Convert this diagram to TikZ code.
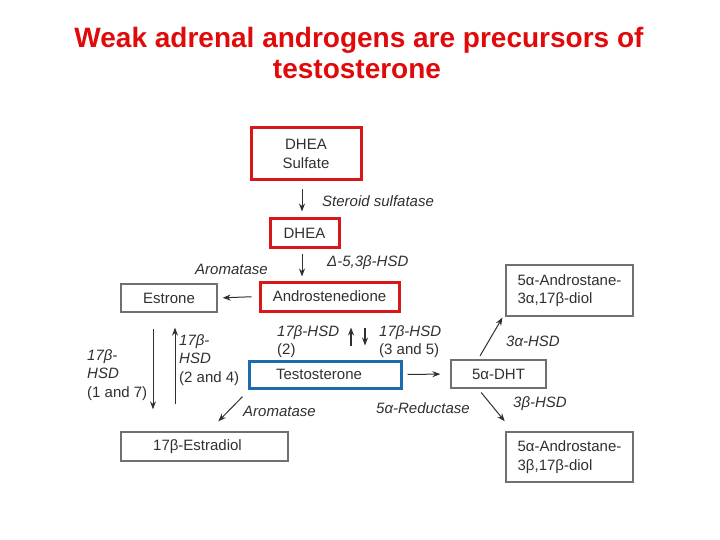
\documentclass[tikz,border=0pt]{standalone}
\usepackage{fontspec}
\setmainfont{Liberation Sans}
\usetikzlibrary{arrows.meta,calc}
\definecolor{tred}{HTML}{E00A0A}
\definecolor{bred}{HTML}{D81818}
\definecolor{bblue}{HTML}{1E6AAE}
\definecolor{ink}{HTML}{303030}
\definecolor{frame}{HTML}{707070}
\tikzset{
  every node/.style={text=ink, font=\fontsize{15}{18.5}\selectfont},
  gbox/.style={draw=frame, line width=1.3pt, inner sep=0pt},
  rbox/.style={draw=bred, line width=3pt, inner sep=0pt},
  bbox/.style={draw=bblue, line width=3pt, inner sep=0pt},
  lab/.style={anchor=west, inner sep=0pt, align=left, font=\fontsize{15}{18.5}\selectfont\itshape},
  arr/.style={draw=ink, line width=1pt, -{Stealth[length=8pt,width=6pt]}},
}
\begin{document}
\begin{tikzpicture}[x=1pt,y=-1pt]
\path[use as bounding box] (0,0) rectangle (720,540);
% title
\node[anchor=base, text=tred, font=\fontsize{28}{31}\selectfont\bfseries] (t1) at (359,48) {Weak adrenal androgens are precursors of};
\node[anchor=base, text=tred, font=\fontsize{28}{31}\selectfont\bfseries] (t2) at (357,79) {testosterone};
% boxes
\node[rbox, minimum width=110pt, minimum height=52pt, align=center] (dhs) at (306,154) {DHEA\\Sulfate};
\node[rbox, minimum width=69pt, minimum height=28pt] (dhea) at (304.5,233) {DHEA};
\node[gbox, minimum width=96pt, minimum height=28pt] (estrone) at (169,298) {Estrone};
\node[rbox, minimum width=139pt, minimum height=29pt] (andro) at (329.5,296.5) {Androstenedione};
\node[bbox, minimum width=152pt, minimum height=27pt] (testo) at (325,374.5) {\hspace*{-12pt}Testosterone};
\node[gbox, minimum width=95pt, minimum height=28pt] (dht) at (498.5,374) {5α-DHT};
\node[gbox, minimum width=127pt, minimum height=51pt, align=left] (adiol) at (569.5,290.5) {5α-Androstane-\\3α,17β-diol\hspace*{24pt}};
\node[gbox, minimum width=127pt, minimum height=50pt, align=left] (bdiol) at (569.5,457) {5α-Androstane-\\3β,17β-diol\hspace*{24pt}};
\node[gbox, minimum width=167pt, minimum height=29pt] (estra) at (204.5,446.5) {17β-Estradiol\hspace*{14pt}};
% arrows
\draw[arr, shorten <=8pt, shorten >=6pt] ([xshift=-4pt]dhs.south) -- ([xshift=-2.5pt]dhea.north);
\draw[arr, shorten <=5pt, shorten >=4pt] ([xshift=-2.5pt]dhea.south) -- ([xshift=-27.5pt]andro.north);
\draw[arr, shorten <=7pt, shorten >=5pt] (andro.west) -- (estrone.east);
\draw[arr, line width=1.5pt, shorten <=14pt, shorten >=15pt] ([xshift=26pt]testo.north) -- ([xshift=21.5pt]andro.south);
\draw[arr, line width=1.5pt, shorten <=15pt, shorten >=14pt] ([xshift=35.5pt]andro.south) -- ([xshift=40pt]testo.north);
\draw[arr, shorten <=5pt, shorten >=10pt] (testo.east) -- (dht.west);
\draw[arr, shorten <=4pt, shorten >=1pt] ([xshift=-20.5pt]dht.north) -- ([xshift=-66.5pt]adiol.south);
\draw[arr, shorten <=5pt, shorten >=13pt] ([xshift=-20.5pt]dht.south) -- ([xshift=-56.5pt]bdiol.north);
\draw[arr, shorten <=10pt, shorten >=14pt] ([xshift=2pt]testo.south west) -- ([xshift=4pt]estra.north);
\draw[arr, shorten <=16pt, shorten >=22pt] ([xshift=-16pt]estrone.south) -- ([xshift=-51.5pt]estra.north);
\draw[arr, shorten <=27pt, shorten >=15pt] ([xshift=-29.5pt]estra.north) -- ([xshift=6pt]estrone.south);
% labels
\node[lab] (l1) at (322,201) {Steroid sulfatase};
\node[lab] (l2) at (327,263) {Δ-5,3β-HSD};
\node[lab] (l3) at (195,269) {Aromatase};
\node[lab] (l4) at (277,341.5) {17β-HSD\\\upshape(2)};
\node[lab] (l5) at (379,341.5) {17β-HSD\\\upshape(3 and 5)};
\node[lab] (l6) at (179,360) {17β-\\HSD\\\upshape(2 and 4)};
\node[lab] (l7) at (87,375) {17β-\\HSD\\\upshape(1 and 7)};
\node[lab] (l8) at (243,411) {Aromatase};
\node[lab] (l9) at (376,408) {5α-Reductase};
\node[lab] (l10) at (506,341) {3α-HSD};
\node[lab] (l11) at (513,404) {3β-HSD};
\end{tikzpicture}
\end{document}
